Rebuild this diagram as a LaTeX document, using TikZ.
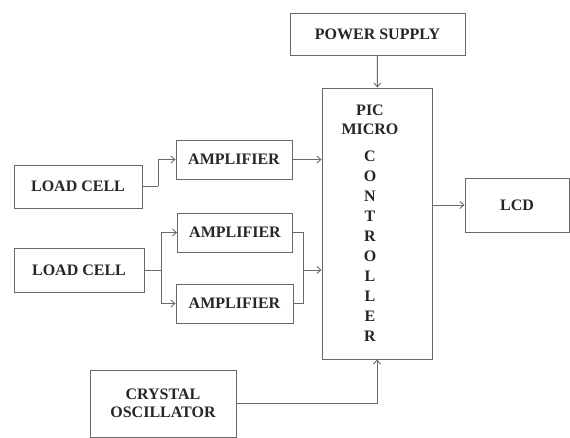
\documentclass[tikz,border=0pt]{standalone}
\usepackage{fontspec}
\setmainfont{Liberation Serif}
\usepackage{xcolor}
\usetikzlibrary{arrows.meta,positioning,calc}
\definecolor{boxline}{HTML}{6A6A6A}
\definecolor{inkdark}{HTML}{262626}
\tikzset{
  unitbox/.style={rectangle, draw=boxline, line width=0.9pt, fill=white,
    text=inkdark, font=\fontsize{16}{18}\selectfont\bfseries, align=center,
    inner sep=0pt},
  sarrow/.style={-{Straight Barb[length=4pt,width=7pt]}, boxline, line width=0.9pt},
  sline/.style={boxline, line width=0.9pt}
}

\begin{document}
\begin{tikzpicture}[x=1pt,y=-1pt]
    \useasboundingbox (0,0) rectangle (570,438);
    \node[unitbox,minimum width=175pt,minimum height=42pt] (psu) at (377.5,34) {POWER SUPPLY};
    \node[unitbox,minimum width=110pt,minimum height=271pt] (pic) at (377,223.5) {};
    \node[text=inkdark,font=\fontsize{16}{20}\selectfont\bfseries,align=center,inner sep=0pt,anchor=north] (pictxt) at (370,104.5)
      {PIC\\[-1pt]MICRO\\[7pt]C\\O\\N\\T\\R\\O\\L\\L\\E\\R};
    \node[unitbox,minimum width=104pt,minimum height=54pt] (lcd) at (517,205) {LCD};
    \node[unitbox,minimum width=128pt,minimum height=43pt] (lc1) at (78,186.5) {LOAD CELL};
    \node[unitbox,minimum width=116pt,minimum height=39pt] (amp1) at (234,159.5) {AMPLIFIER};
    \node[unitbox,minimum width=130pt,minimum height=44pt] (lc2) at (79,270) {LOAD CELL};
    \node[unitbox,minimum width=115pt,minimum height=39pt] (amp2) at (235,232.5) {AMPLIFIER};
    \node[unitbox,minimum width=117pt,minimum height=39pt] (amp3) at (234.5,303.5) {AMPLIFIER};
    \node[unitbox,minimum width=146pt,minimum height=67pt] (xtal) at (163,403.5) {CRYSTAL\\OSCILLATOR};
    \coordinate (s1) at (158,186.5);
    \coordinate (s2) at (161,270);
    \coordinate (j2) at (303,270);
    \draw[sarrow](psu)--(pic);
    \draw[sline](lc1.east)--(s1);\draw[sarrow](s1)|-(amp1.west);
    \draw[sarrow](amp1.east)--(pic.west|-amp1.east);
    \draw[sline](lc2.east)--(s2);\draw[sarrow](s2)|-(amp2.west);\draw[sarrow](s2)|-(amp3.west);
    \draw[sline](amp2.east)-|(j2);\draw[sline](amp3.east)-|(j2);
    \draw[sarrow](j2)--(pic.west|-j2);
    \draw[sarrow](pic.east|-lcd.west)--(lcd.west);
    \draw[sarrow](xtal.east)-|(pic.south);
  \end{tikzpicture}
\end{document}
